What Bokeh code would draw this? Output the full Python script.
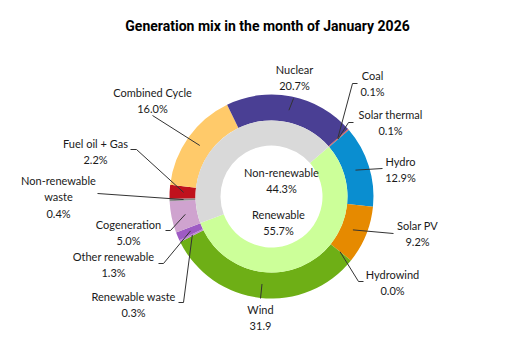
import math
from bokeh.plotting import figure
from bokeh.models import Range1d
from bokeh.core.properties import value
from bokeh.embed import file_html
from bokeh.resources import INLINE

# ---------------- data ----------------
TITLE = "Generation mix in the month of January 2026"

# outer ring, listed clockwise from the first slice
categories = ["Solar thermal", "Hydro", "Solar PV", "Hydrowind", "Wind",
              "Renewable waste", "Other renewable", "Cogeneration",
              "Non-renewable waste", "Fuel oil + Gas", "Combined Cycle",
              "Nuclear", "Coal"]
shares = [0.1, 12.9, 9.2, 0.0, 31.9, 0.3, 1.3, 5.0, 0.4, 2.2, 16.0, 20.7, 0.1]
share_labels = ["0.1%", "12.9%", "9.2%", "0.0%", "31.9", "0.3%", "1.3%",
                "5.0%", "0.4%", "2.2%", "16.0%", "20.7%", "0.1%"]

# inner ring
groups = ["Renewable", "Non-renewable"]
group_shares = [55.7, 44.3]
group_labels = ["55.7%", "44.3%"]

# ---------------- style / layout ----------------
colors = {"Solar thermal": "#E0443C", "Hydro": "#0A8ED0", "Solar PV": "#E68A00",
          "Hydrowind": "#5FA8D3", "Wind": "#6EAF16", "Renewable waste": "#BE86D6",
          "Other renewable": "#9E5BC4", "Cogeneration": "#CFA3CF",
          "Non-renewable waste": "#8C8C8C", "Fuel oil + Gas": "#C0121D",
          "Combined Cycle": "#FFCA6A", "Nuclear": "#4A3F94", "Coal": "#C04848"}
group_colors = {"Renewable": "#CCFF99", "Non-renewable": "#D9D9D9"}
display = {"Non-renewable waste": "Non-renewable\nwaste"}

W, H = 515, 353
CX, CY = 271, 196          # image coordinates of the centre
R_OUT, R_MID, R_IN = 102, 76, 51
START = 41.0               # degrees, first slice boundary
R_LEAD = 88

FONT = "Lato"
FS = 11
LH = 14

# label anchor (centre x, first line centre y) and leader bends (image px)
label_pos = {"Nuclear": (294, 69), "Coal": (372, 75), "Solar thermal": (390, 114),
             "Hydro": (400, 161), "Solar PV": (417, 225), "Hydrowind": (392, 274),
             "Wind": (260, 309), "Renewable waste": (133, 296),
             "Other renewable": (113, 256), "Cogeneration": (128, 224),
             "Non-renewable waste": (58, 180), "Fuel oil + Gas": (95, 143),
             "Combined Cycle": (152, 92)}
leader_bends = {"Nuclear": [(293, 98)], "Coal": [(352, 83), (357, 83)],
                "Solar thermal": [(348, 122), (353, 122)], "Hydro": [(382, 168)],
                "Solar PV": [(393, 233)], "Hydrowind": [(358, 281), (363, 281)],
                "Wind": [(260, 298)], "Renewable waste": [(183, 302), (178, 302)],
                "Other renewable": [(163, 263), (158, 263)],
                "Cogeneration": [(170, 230), (165, 230)],
                "Non-renewable waste": [(97, 193)],
                "Fuel oil + Gas": [(136, 149), (130, 149)],
                "Combined Cycle": [(152, 115)]}
group_label_pos = {"Non-renewable": (281, 172), "Renewable": (278, 214)}


def dy(y):
    return H - y


p = figure(width=W, height=H, x_range=Range1d(0, W), y_range=Range1d(0, H),
           output_backend="svg", toolbar_location=None,
           x_axis_location=None, y_axis_location=None, min_border=0)
p.grid.visible = False
p.outline_line_color = None
p.background_fill_color = "white"
p.border_fill_color = "white"


def ring(values, names, cmap, r0, r1):
    total = sum(values)
    cum = 0.0
    out = []
    for v, n in zip(values, names):
        a_end = START - cum / total * 360.0
        cum += v
        a_start = START - cum / total * 360.0
        out.append((n, a_start, a_end))
    xs, ys, sa, ea, cs = [], [], [], [], []
    for n, a0, a1 in out:
        if a1 - a0 <= 0:
            continue
        xs.append(CX); ys.append(dy(CY))
        sa.append(math.radians(a0)); ea.append(math.radians(a1))
        cs.append(cmap[n])
    p.annular_wedge(x=xs, y=ys, inner_radius=r0, outer_radius=r1,
                    start_angle=sa, end_angle=ea, fill_color=cs,
                    line_color=None, direction="anticlock")
    return out


outer = ring(shares, categories, colors, R_MID, R_OUT)
inner = ring(group_shares, groups, group_colors, R_IN, R_MID)

# leaders
lx, ly = [], []
for n, a0, a1 in outer:
    mid = math.radians((a0 + a1) / 2)
    sx = CX + R_LEAD * math.cos(mid)
    sy = CY - R_LEAD * math.sin(mid)
    pts = [(sx, sy)] + leader_bends[n]
    lx.append([q[0] for q in pts])
    ly.append([dy(q[1]) for q in pts])
p.multi_line(xs=lx, ys=ly, line_color="#333333", line_width=1)

# outer labels
tx, ty, tt = [], [], []
for n, lab in zip(categories, share_labels):
    x, y = label_pos[n]
    tx.append(x); ty.append(dy(y - LH / 2)); tt.append(display.get(n, n) + "\n" + lab)
for g, lab in zip(groups, group_labels):
    x, y = group_label_pos[g]
    tx.append(x); ty.append(dy(y - LH / 2)); tt.append(g + "\n" + lab)
p.text(x=tx, y=ty, text=tt, text_font=value(FONT), text_font_size=f"{FS}px",
       text_align="center", text_baseline="top", text_color="#1a1a1a",
       text_line_height=LH / FS)

# title
p.text(x=[267], y=[dy(25)], text=[TITLE], text_font=value("Roboto"),
       text_font_size="14px", text_font_style="bold", text_align="center",
       text_baseline="middle", text_color="#000000")

open("out.html", "w").write(file_html(p, INLINE))
